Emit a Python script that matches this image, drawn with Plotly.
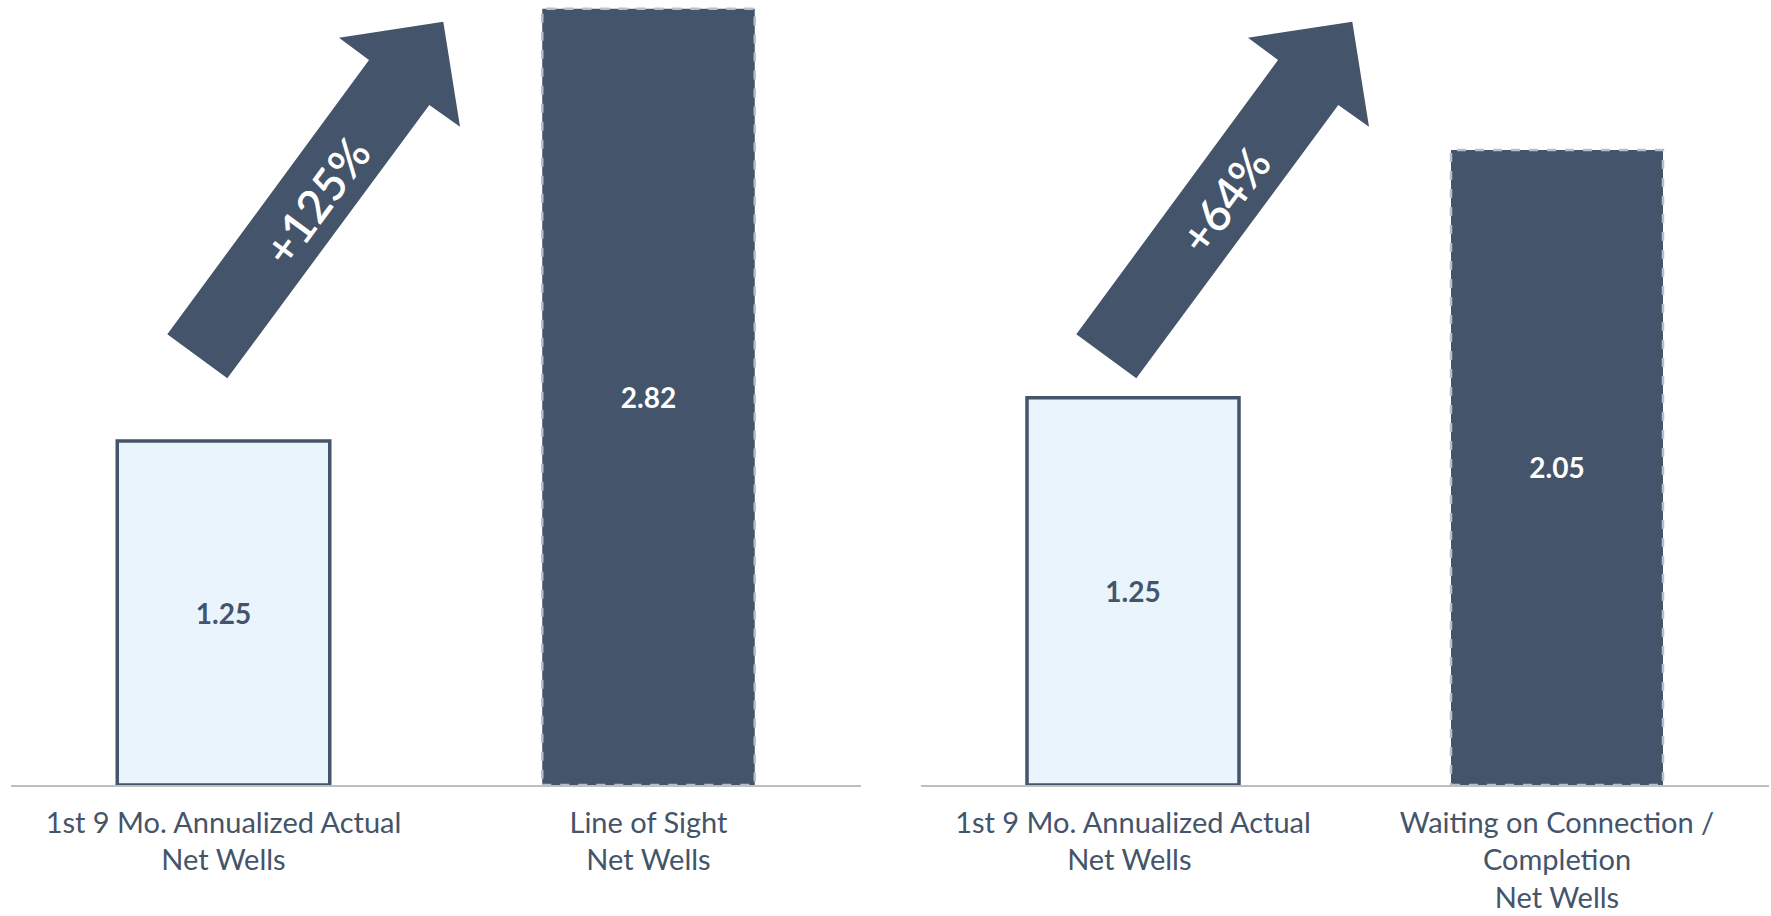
import plotly.graph_objects as go

# ---- data ----
left_categories = ["1st 9 Mo. Annualized Actual<br>Net Wells", "Line of Sight<br>Net Wells"]
left_values = [1.25, 2.82]
right_categories = ["1st 9 Mo. Annualized Actual<br>Net Wells ", "Waiting on Connection /<br>Completion<br>Net Wells"]
right_values = [1.25, 2.05]
left_change = "+125%"
right_change = "+64%"

# ---- style ----
W, H = 1771, 916
DARK = "#44546A"
LIGHT = "#EAF4FD"
FONT = "Lato"
fills = [LIGHT, DARK]
text_colors = [DARK, "white"]

fig = go.Figure()

def add_panel(cats, vals, xa, ya):
    for i, (c, v) in enumerate(zip(cats, vals)):
        fig.add_trace(go.Bar(
            x=[c], y=[v], xaxis=xa, yaxis=ya,
            marker=dict(color=fills[i],
                        line=dict(color=DARK if i == 0 else fills[i], width=3.5 if i == 0 else 0)),
            text=[f"{v:.2f}"], textposition="inside", insidetextanchor="middle",
            textfont=dict(family=FONT, size=28, color=text_colors[i], weight="bold"),
            width=0.5, showlegend=False, hoverinfo="skip", cliponaxis=False,
        ))
        if i == 1:
            fig.add_shape(type="rect", xref=xa, yref=ya,
                          x0=i - 0.25, x1=i + 0.25, y0=0, y1=v,
                          line=dict(color="#B8BFC8", width=2.5, dash="dash"),
                          fillcolor="rgba(0,0,0,0)", layer="above")

add_panel(left_categories, left_values, "x", "y")
add_panel(right_categories, right_values, "x2", "y2")

ydom = [(H - 785) / H, (H - 5) / H]
axis_common = dict(showgrid=False, zeroline=False, showline=True, linecolor="#BFBFBF",
                   linewidth=1.5, ticks="", tickfont=dict(family=FONT, size=29, color=DARK),
                   fixedrange=True, ticklabelstandoff=11, automargin=False)
fig.update_layout(
    width=W, height=H, margin=dict(l=0, r=0, t=0, b=0),
    paper_bgcolor="white", plot_bgcolor="white", bargap=0.5,
    xaxis=dict(domain=[11 / W, 861 / W], anchor="y", **axis_common),
    xaxis2=dict(domain=[921 / W, 1769 / W], anchor="y2", **axis_common),
    yaxis=dict(domain=ydom, range=[0, 2.834], visible=False, fixedrange=True, automargin=False),
    yaxis2=dict(domain=ydom, range=[0, 2.518], visible=False, fixedrange=True, automargin=False),
)

# ---- block arrows (decoration), pixel geometry relative to panel offset ----
arrow_pts = [(167.3, 334.3), (369, 60), (339, 37.7), (443.3, 21.7),
             (460, 126.7), (429.3, 105), (227.3, 378.3)]

def arrow(dx):
    pts = [((x + dx) / W, 1 - y / H) for x, y in arrow_pts]
    path = "M " + " L ".join(f"{x:.5f},{y:.5f}" for x, y in pts) + " Z"
    fig.add_shape(type="path", xref="paper", yref="paper", path=path,
                  fillcolor=DARK, line=dict(width=0), layer="above")

arrow(0)
arrow(909)

for txt, cx, cy in [(left_change, 315.5, 201), (right_change, 1224, 200.5)]:
    fig.add_annotation(x=cx / W, y=1 - cy / H, xref="paper", yref="paper",
                       text=txt, showarrow=False, textangle=-53.6,
                       font=dict(family=FONT, size=46, color="white", weight=600),
                       xanchor="center", yanchor="middle")

fig.write_html("out.html")
